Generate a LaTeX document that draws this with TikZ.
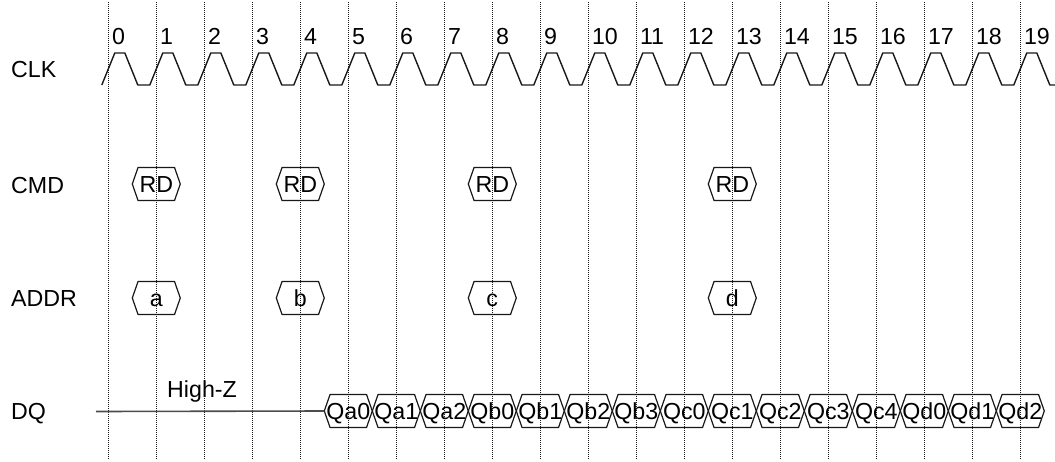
\documentclass[tikz,border=0pt]{standalone}
\usepackage{fontspec}
\setmainfont{Liberation Sans}
\usetikzlibrary{positioning}

\begin{document}
\begin{tikzpicture}[
    x=24pt, y=-0.5pt,
    font=\fontsize{11.6}{14}\selectfont,
    grid/.style={black!90, line width=0.5pt, dash pattern=on 0.5pt off 0.5pt},
    clock/.style={black!90, line width=0.7pt, line join=round},
    hexline/.style={black!90, line width=0.6pt, line join=round},
    buslabel/.style={inner sep=0pt, text height=8.2pt, text depth=0pt},
    rowlabel/.style={anchor=base west, inner sep=0pt},
    cyclenum/.style={anchor=base west, inner sep=0pt},
    hiz/.style={black!70, line width=0.8pt}
]

    \useasboundingbox (-2.256, 0) rectangle (19.723, 461);

    % --- Cycle grid and numbers ---
    \foreach \i in {0,...,19} {
        \draw[grid] (\i, 2) -- (\i, 460);
        \node[cyclenum] (n\i) at (\i+0.07, 44) {\i};
    }

    % --- Row labels ---
    \node[rowlabel] (lclk) at (-2.03, 77.5) {CLK};
    \node[rowlabel] (lcmd) at (-2.03, 193.3) {CMD};
    \node[rowlabel] (laddr) at (-2.03, 306.7) {ADDR};
    \node[rowlabel] (ldq) at (-2.03, 419) {DQ};

    % --- Clock ---
    \draw[clock] (-0.135, 85)
        \foreach \i in {0,...,18} { -- (\i+0.135, 53) -- (\i+0.345, 53) -- (\i+0.615, 85) -- (\i+0.865, 85) }
        -- (19.135, 53) -- (19.345, 53) -- (19.615, 85) -- (19.723, 85);

    % --- CMD and ADDR ---
    \foreach \cyc/\a [count=\k] in {1/a, 4/b, 8/c, 13/d} {
        \node[buslabel] (rd\k) at (\cyc, 184) {RD};
        \draw[hexline] (\cyc-0.5, 184) -- ++(0.12, -16.5) -- ++(0.76, 0) -- ++(0.12, 16.5)
            -- ++(-0.12, 16.5) -- ++(-0.76, 0) -- cycle;
        \node[buslabel] (ad\k) at (\cyc, 298) {\a};
        \draw[hexline] (\cyc-0.5, 298) -- ++(0.12, -16.5) -- ++(0.76, 0) -- ++(0.12, 16.5)
            -- ++(-0.12, 16.5) -- ++(-0.76, 0) -- cycle;
    }

    % --- DQ ---
    \coordinate (hizstart) at (-0.256, 411.5);
    \foreach \lbl [count=\cyc from 5] in {Qa0,Qa1,Qa2,Qb0,Qb1,Qb2,Qb3,Qc0,Qc1,Qc2,Qc3,Qc4,Qd0,Qd1,Qd2} {
        \node[buslabel] (\lbl) at (\cyc, 411) {\lbl};
        \draw[hexline] (\cyc-0.5, 411) coordinate (in\lbl) -- ++(0.12, -16.5) -- ++(0.76, 0) -- ++(0.12, 16.5)
            -- ++(-0.12, 16.5) -- ++(-0.76, 0) -- cycle;
    }
    \draw[hiz] (hizstart) -- (inQa0);
    \node[anchor=base west, inner sep=0pt] (hizlabel) at (1.22, 397) {High-Z};

\end{tikzpicture}
\end{document}
